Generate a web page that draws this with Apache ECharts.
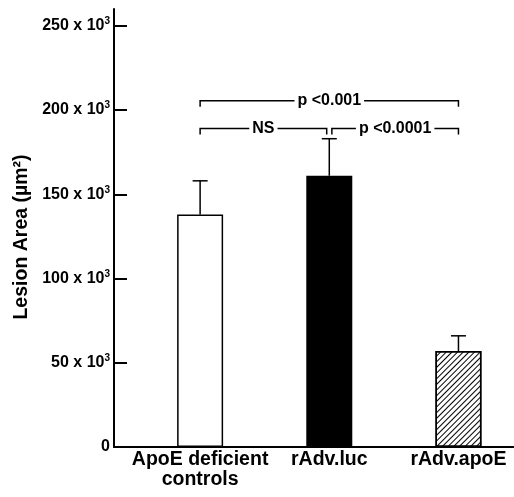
<!DOCTYPE html>
<html>
<head>
<meta charset="utf-8">
<script src="https://cdn.jsdelivr.net/npm/echarts@6/dist/echarts.min.js"></script>
<style>html,body{margin:0;padding:0;background:#fff;}#c{width:514px;height:497px;}</style>
</head>
<body>
<div id="c"></div>
<script>
const categories = ['ApoE deficient\ncontrols', 'rAdv.luc', 'rAdv.apoE'];
const positions = [1, 2, 3];
const means = [138, 161, 57];
const errorTops = [158, 183, 66];
const yTicks = [0, 50, 100, 150, 200, 250];
const bracketFrom = [1, 1, 2.02];
const bracketTo = [3, 1.98, 3];
const bracketLevel = [205.5, 189, 189];
const bracketLabels = ['p <0.001', 'NS', 'p <0.0001'];

const FONT = '"Liberation Sans", Arial, Helvetica, sans-serif';
const chart = echarts.init(document.getElementById('c'), null, {renderer: 'canvas'});

const barStyles = [
  {color: '#fff', borderColor: '#000', borderWidth: 1.5},
  {color: '#000', borderColor: '#000', borderWidth: 1.5},
  {color: '#fff', borderColor: '#000', borderWidth: 1.5,
   decal: {symbol: 'rect', symbolSize: 1, dashArrayX: [1, 0], dashArrayY: [1, 2.8], rotation: -Math.PI / 4, color: '#000'}}
];
const barData = positions.map((p, i) => ({value: [p, means[i]], itemStyle: barStyles[i]}));
const errData = positions.map((p, i) => [p, means[i], errorTops[i]]);
const brData = bracketLabels.map((l, i) => [bracketFrom[i], bracketTo[i], bracketLevel[i], (bracketFrom[i] + bracketTo[i]) / 2]);

const measureCtx = document.createElement('canvas').getContext('2d');
const brFont = 'bold 16px ' + FONT;
measureCtx.font = brFont;

chart.setOption({
  animation: false,
  grid: {left: 114, right: 0, top: 9, bottom: 50, containLabel: false},
  xAxis: {
    type: 'value', min: 1 / 3, max: 3.43,
    axisLine: {show: true, lineStyle: {color: '#000', width: 2}},
    axisTick: {show: false},
    splitLine: {show: false},
    axisLabel: {
      customValues: positions,
      formatter: v => categories[Math.round(v) - 1] || '',
      color: '#000', fontFamily: FONT, fontWeight: 'bold', fontSize: 19.5, lineHeight: 20, margin: 3
    }
  },
  yAxis: {
    type: 'value', min: 0, max: 260,
    name: 'Lesion Area (µm²)', nameLocation: 'middle', nameGap: 79,
    nameTextStyle: {color: '#000', fontFamily: FONT, fontWeight: 'bold', fontSize: 19.5, padding: [0, 18, 0, 0]},
    axisLine: {show: true, lineStyle: {color: '#000', width: 2}},
    axisTick: {show: true, inside: true, length: 13, lineStyle: {color: '#000', width: 2}, customValues: yTicks},
    splitLine: {show: false},
    axisLabel: {
      customValues: yTicks, margin: 4,
      formatter: v => v === 0 ? '{n|0}' : '{n|' + v + ' x 10}{s|3}',
      rich: {
        n: {color: '#000', fontFamily: FONT, fontWeight: 'bold', fontSize: 16},
        s: {color: '#000', fontFamily: FONT, fontWeight: 'bold', fontSize: 10, padding: [0, 0, 9, 0]}
      }
    }
  },
  series: [
    {type: 'bar', data: barData, barWidth: 46, z: 2},
    {
      type: 'custom', data: errData, z: 3,
      renderItem: (params, api) => {
        const x = api.value(0);
        const b = api.coord([x, api.value(1)]);
        const t = api.coord([x, api.value(2)]);
        const hw = 7.5;
        return {type: 'group', children: [
          {type: 'line', shape: {x1: b[0], y1: b[1], x2: t[0], y2: t[1]}, style: {stroke: '#000', lineWidth: 1.5}},
          {type: 'line', shape: {x1: t[0] - hw, y1: t[1], x2: t[0] + hw, y2: t[1]}, style: {stroke: '#000', lineWidth: 1.5}}
        ]};
      }
    },
    {
      type: 'custom', data: brData, z: 3,
      renderItem: (params, api) => {
        const i = params.dataIndex;
        const y = api.value(2);
        const p1 = api.coord([api.value(0), y]);
        const p2 = api.coord([api.value(1), y]);
        const lp = api.coord([api.value(3), y]);
        const label = bracketLabels[i];
        const half = measureCtx.measureText(label).width / 2 + 3;
        const drop = 6;
        const st = {stroke: '#000', lineWidth: 1.5, fill: null};
        return {type: 'group', children: [
          {type: 'polyline', shape: {points: [[p1[0], p1[1] + drop], [p1[0], p1[1]], [lp[0] - half, p1[1]]]}, style: st},
          {type: 'polyline', shape: {points: [[lp[0] + half, p2[1]], [p2[0], p2[1]], [p2[0], p2[1] + drop]]}, style: st},
          {type: 'text', style: {text: label, x: lp[0], y: lp[1], align: 'center', verticalAlign: 'middle', font: brFont, fill: '#000'}}
        ]};
      }
    }
  ]
});
</script>
</body>
</html>
